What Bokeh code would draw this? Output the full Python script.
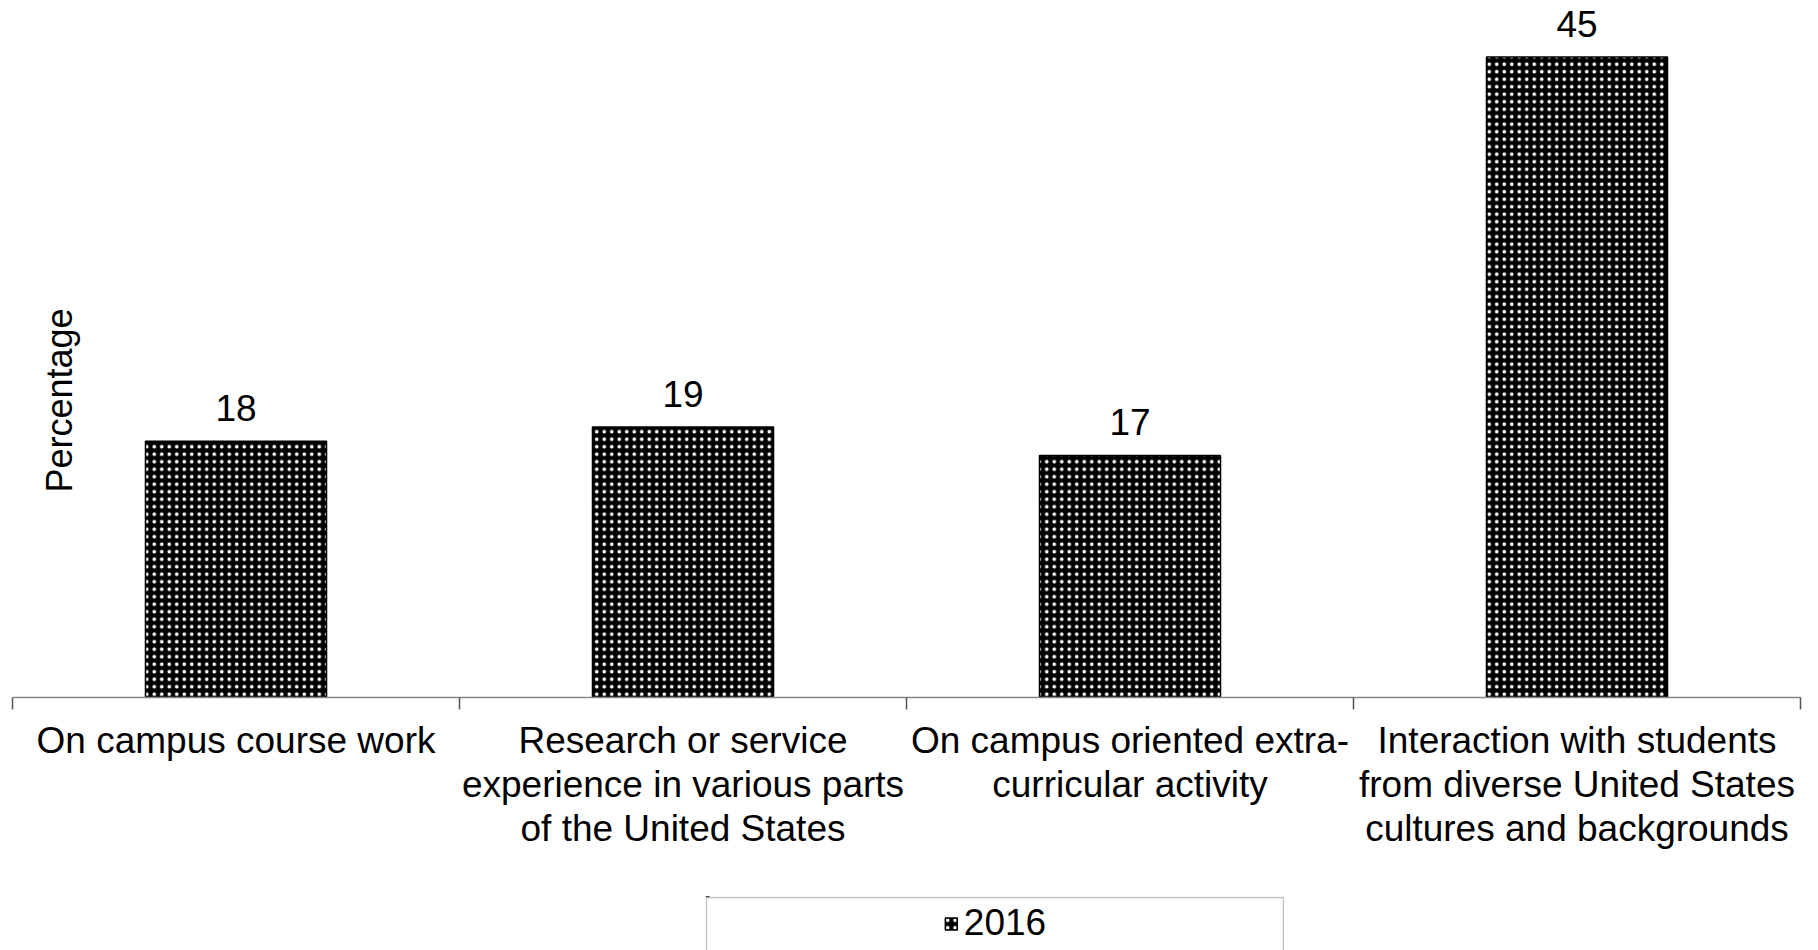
from math import pi
from bokeh.plotting import figure
from bokeh.core.properties import value
from bokeh.layouts import column, row
from bokeh.models import (Range1d, LinearAxis, FixedTicker, Spacer, BoxAnnotation,
                          Label, LabelSet, ColumnDataSource, Legend, LegendItem)
from bokeh.embed import file_html
from bokeh.resources import INLINE

# ---- data ----
categories = [
    "On campus course work",
    "Research or service experience in various parts of the United States",
    "On campus oriented extra-curricular activity",
    "Interaction with students from diverse United States cultures and backgrounds",
]
category_labels = [
    "On campus course work",
    "Research or service\nexperience in various parts\nof the United States",
    "On campus oriented extra-\ncurricular activity",
    "Interaction with students\nfrom diverse United States\ncultures and backgrounds",
]
values_2016 = [18, 19, 17, 45]
series_name = "2016"
y_title = "Percentage"

FONT = "Liberation Sans"
FS = "37px"
BAR_STYLE = dict(fill_color="black", line_color="black", line_width=1.5,
                 hatch_pattern="dot", hatch_color="white", hatch_scale=7.5, hatch_weight=2.2)

n = len(categories)
centers = [i + 0.5 for i in range(n)]
edges = list(range(n + 1))

src = ColumnDataSource(dict(x=centers, cat=categories, val=values_2016,
                            txt=[str(v) for v in values_2016]))

# ---------------- main chart ----------------
p = figure(width=1810, height=896,
           x_range=Range1d(0, n), y_range=Range1d(0, 48.4),
           x_axis_location=None, y_axis_location=None,
           output_backend="svg", toolbar_location=None,
           min_border_left=12, min_border_right=10, min_border_top=8, min_border_bottom=199)
p.outline_line_color = None
p.xgrid.visible = False
p.ygrid.visible = False
p.background_fill_color = "white"
p.border_fill_color = "white"

bars = p.vbar(x="x", top="val", width=0.405, source=src, **BAR_STYLE)

# axis line with ticks at category boundaries
edge_axis = LinearAxis(ticker=FixedTicker(ticks=edges),
                       major_label_overrides={e: "" for e in edges},
                       major_label_text_font_size="0px", major_label_standoff=0,
                       axis_line_color="#868686", axis_line_width=1.5,
                       major_tick_line_color="#555555", major_tick_line_width=1.5,
                       major_tick_out=12, major_tick_in=0,
                       minor_tick_line_color=None)
p.add_layout(edge_axis, "below")

# category labels at the centres
cat_axis = LinearAxis(ticker=FixedTicker(ticks=centers),
                      axis_line_color=None, major_tick_line_color=None,
                      major_tick_out=0, major_tick_in=0, minor_tick_line_color=None,
                      major_label_overrides=dict(zip(centers, category_labels)),
                      major_label_text_font=FONT, major_label_text_font_size=FS,
                      major_label_text_color="black",
                      major_label_text_line_height=1.08,
                      major_label_standoff=10)
p.add_layout(cat_axis, "below")

labels = LabelSet(x="x", y="val", text="txt", source=src, y_offset=20,
                  text_align="center", text_baseline="alphabetic",
                  text_font=value(FONT), text_font_size=value(FS), text_color="black")
p.add_layout(labels)

p.add_layout(Label(x=47, y=297, x_units="screen", y_units="screen", text=y_title,
                   angle=pi / 2, text_align="center", text_baseline="middle",
                   text_font=FONT, text_font_size="36px", text_color="black"))

# ---------------- legend panel ----------------
LW, LH = 579, 54
# the y range lies entirely below zero, so the series' bars drawn here stay out of view;
# the renderer only supplies the legend swatch
leg = figure(width=LW, height=LH, x_range=Range1d(0, LW), y_range=Range1d(-LH - 6, -6),
             x_axis_location=None, y_axis_location=None,
             output_backend="svg", toolbar_location=None,
             min_border_left=0, min_border_right=0, min_border_top=0, min_border_bottom=0)
leg.outline_line_color = None
leg.xgrid.visible = False
leg.ygrid.visible = False
leg.background_fill_color = "white"
leg.border_fill_color = "white"

# box whose bottom runs past the bottom of the page, as in the reference
leg.add_layout(BoxAnnotation(left=1, right=LW - 1, top=-7, bottom=-LH - 40,
                             fill_alpha=0, line_color="#333333", line_width=1.5))

swatch = leg.vbar(x="x", top="val", width=0.405, source=src, **BAR_STYLE)
legend = Legend(items=[LegendItem(label=series_name, renderers=[swatch])],
                location="center", border_line_color=None, background_fill_alpha=0,
                padding=0, margin=0, glyph_width=15, glyph_height=15, label_standoff=6,
                label_text_font=FONT, label_text_font_size=FS, label_text_color="black")
leg.add_layout(legend)

layout = column(p, row(Spacer(width=705, height=LH), leg))

open("out.html", "w").write(file_html(layout, INLINE))
